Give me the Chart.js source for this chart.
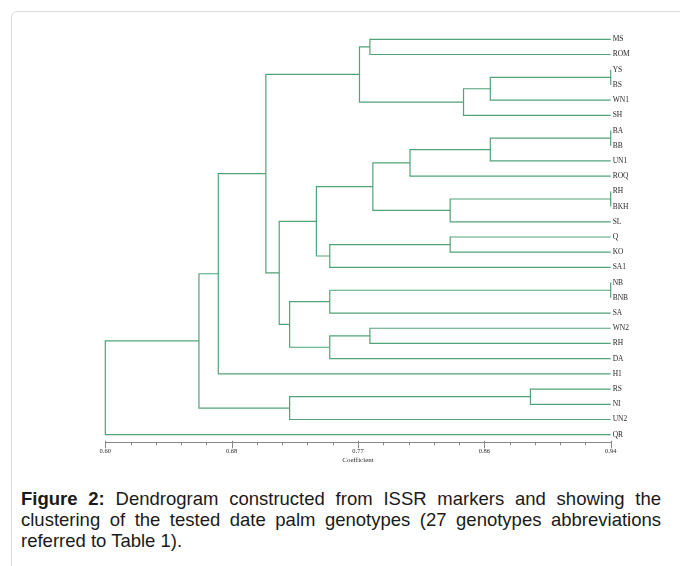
<!DOCTYPE html>
<html>
<head>
<meta charset="utf-8">
<title>Dendrogram ISSR</title>
<script src="https://cdn.jsdelivr.net/npm/chart.js@4.4.1/dist/chart.umd.min.js"></script>
<style>
  html, body { margin: 0; padding: 0; background: #fff; }
  body { width: 680px; height: 566px; position: relative; overflow: hidden; }
  #frame { position: absolute; left: 11px; top: 11px; width: 720px; height: 620px;
           border: 1.5px solid #dcdcdc; border-radius: 6px; box-sizing: border-box; }
  #dendro { position: absolute; left: 0; top: 0; }
  .cap { position: absolute; left: 21px; width: 640px; font-family: "Liberation Sans", Arial, sans-serif;
         font-size: 18.5px; line-height: 21px; color: #1a1a1a; }
  .just { text-align: justify; text-align-last: justify; }
</style>
</head>
<body>
<div id="frame"></div>
<canvas id="dendro" width="680" height="470"></canvas>
<div class="cap just" style="top:488px"><b>Figure 2:</b> Dendrogram constructed from ISSR markers and showing the</div>
<div class="cap just" style="top:509px">clustering of the tested date palm genotypes (27 genotypes abbreviations</div>
<div class="cap" style="top:530px">referred to Table 1).</div>

<script>
// leaves, top to bottom
var leafNames = ['MS', 'ROM', 'YS', 'BS', 'WN1', 'SH', 'BA', 'BB', 'UN1', 'ROQ', 'RH', 'BKH', 'SL',
                 'Q', 'KO', 'SA1', 'NB', 'BNB', 'SA', 'WN2', 'RH', 'DA', 'H1', 'RS', 'NI', 'UN2', 'QR'];

// linkage: node 27+k joins mergeA[k] and mergeB[k] at coefficient mergeAt[k]
var mergeA  = [0, 2, 28, 29, 27, 6, 32, 33, 10, 35, 34, 13, 38, 37, 16, 41, 19, 43, 42, 40, 31, 47, 23, 49, 48, 51];
var mergeB  = [1, 3, 4, 5, 30, 7, 8, 9, 11, 12, 36, 14, 15, 39, 17, 18, 20, 21, 44, 45, 46, 22, 24, 25, 50, 26];
var mergeAt = [0.778, 0.94, 0.859, 0.841, 0.771, 0.94, 0.859, 0.805, 0.94, 0.832, 0.780, 0.832, 0.751,
               0.742, 0.94, 0.751, 0.778, 0.751, 0.724, 0.717, 0.708, 0.676, 0.886, 0.724, 0.663, 0.600];

// x axis
var xMajor = [0.60, 0.685, 0.77, 0.855, 0.94];
var xTickLabels = ['0.60', '0.68', '0.77', '0.86', '0.94'];
var xMinorPerMajor = 5;

var GREEN = '#52a378';

// node positions (leaves sit at the right end of the scale)
var nodeX = [], nodeY = [];
leafNames.forEach(function (n, i) { nodeX[i] = xMajor[xMajor.length - 1]; nodeY[i] = i; });
mergeAt.forEach(function (h, k) {
  var a = mergeA[k], b = mergeB[k];
  nodeX[leafNames.length + k] = h;
  nodeY[leafNames.length + k] = (nodeY[a] + nodeY[b]) / 2;
});

var datasets = mergeAt.map(function (h, k) {
  var a = mergeA[k], b = mergeB[k];
  return {
    data: [
      { x: nodeX[a], y: nodeY[a] },
      { x: h, y: nodeY[a] },
      { x: h, y: nodeY[b] },
      { x: nodeX[b], y: nodeY[b] }
    ],
    showLine: true,
    borderColor: GREEN,
    borderWidth: 1.2,
    pointRadius: 0,
    tension: 0,
    fill: false,
    clip: false
  };
});

function buildXTicks() {
  var out = [];
  for (var i = 0; i < xMajor.length; i++) {
    out.push({ value: xMajor[i] });
    if (i < xMajor.length - 1) {
      var step = (xMajor[i + 1] - xMajor[i]) / xMinorPerMajor;
      for (var j = 1; j < xMinorPerMajor; j++) out.push({ value: xMajor[i] + step * j });
    }
  }
  return out;
}

// small tick marks under the axis line
var tickMarks = {
  id: 'tickMarks',
  afterDraw: function (chart) {
    var s = chart.scales.x, ctx = chart.ctx;
    ctx.save();
    ctx.strokeStyle = '#888';
    ctx.lineWidth = 1;
    s.ticks.forEach(function (t, i) {
      var px = Math.round(s.getPixelForValue(t.value)) + 0.5;
      var major = i % xMinorPerMajor === 0;
      ctx.beginPath();
      ctx.moveTo(px, s.top - (major ? 1.5 : 0));
      ctx.lineTo(px, s.top + (major ? 6 : 3));
      ctx.stroke();
    });
    ctx.restore();
  }
};

Chart.defaults.font.family = '"Liberation Serif", "DejaVu Serif", serif';
Chart.defaults.color = '#2a2a2a';

new Chart(document.getElementById('dendro'), {
  type: 'scatter',
  data: { datasets: datasets },
  plugins: [tickMarks],
  options: {
    responsive: false,
    animation: false,
    layout: { padding: { left: 105.3, top: 31.7, right: 0, bottom: 5.7 } },
    plugins: { legend: { display: false }, tooltip: { enabled: false } },
    scales: {
      x: {
        type: 'linear',
        position: 'bottom',
        min: 0.60,
        max: 0.94,
        afterBuildTicks: function (s) { s.ticks = buildXTicks(); },
        afterFit: function (s) { s.height = 22; },
        grid: { display: false, drawTicks: false, tickLength: 0 },
        border: { display: true, color: '#888', width: 1 },
        ticks: {
          autoSkip: false,
          maxRotation: 0,
          padding: 5,
          font: { size: 6.5 },
          callback: function (v, i) { return i % xMinorPerMajor === 0 ? xTickLabels[i / xMinorPerMajor] : ''; }
        },
        title: { display: true, text: 'Coefficient', font: { size: 7 }, padding: 0 }
      },
      y: {
        type: 'linear',
        position: 'right',
        reverse: true,
        min: -0.5,
        max: leafNames.length - 0.5,
        afterBuildTicks: function (s) { s.ticks = leafNames.map(function (n, i) { return { value: i }; }); },
        afterFit: function (s) { s.width = 69.3; },
        grid: { display: false, drawTicks: false, tickLength: 0 },
        border: { display: false },
        ticks: {
          autoSkip: false,
          padding: 2,
          font: { size: 7.5 },
          callback: function (v, i) { return leafNames[i]; }
        }
      }
    }
  }
});
</script>
</body>
</html>
